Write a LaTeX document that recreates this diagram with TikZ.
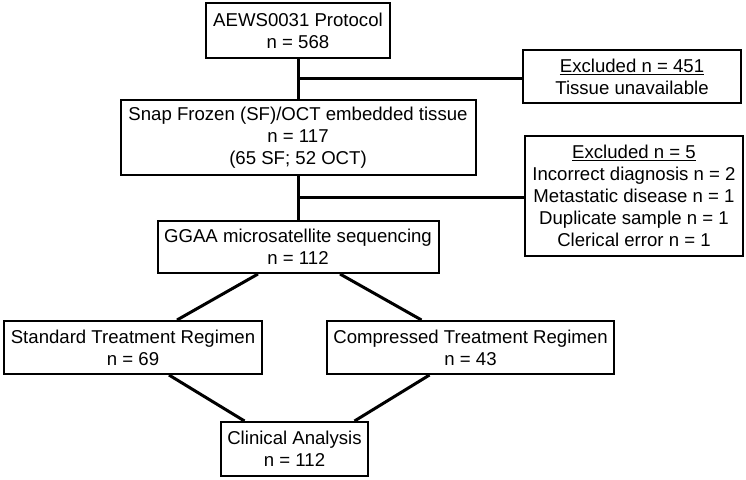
\documentclass[tikz,border=0pt]{standalone}
\usepackage{fontspec}
\setmainfont{Liberation Sans}
\usepackage{tikz}
\usetikzlibrary{shapes,arrows}
\tikzstyle{block} = [rectangle, draw, line width=2pt, align=center,
inner sep=0pt, font=\fontsize{18.6}{22}\selectfont]
\tikzstyle{excluded} = [block, minimum width=218pt]
\tikzstyle{line} = [draw, line width=3pt]

\begin{document}
\begin{tikzpicture}[x=1pt, y=-1pt]
        \useasboundingbox (0,0) rectangle (746,479);

        \node [block, minimum width=184pt, minimum height=55pt] (protocol) at (298,30.5) {AEWS0031 Protocol\\n = 568};
        \node [block, below of=protocol, node distance=107pt, minimum width=355pt, minimum height=75pt] (frozen) {Snap Frozen (SF)/OCT embedded tissue\\n = 117\\(65 SF; 52 OCT)};
        \node [block, below of=frozen, node distance=109.5pt, minimum width=281pt, minimum height=52pt] (seq) {GGAA microsatellite sequencing\\n = 112};
        \node [block, minimum width=258pt, minimum height=53pt] (standard) at (133,347.5) {Standard Treatment Regimen\\n = 69};
        \node [block, minimum width=287pt, minimum height=53pt] (compressed) at (470.5,347.5) {Compressed Treatment Regimen\\n = 43};
        \node [block, minimum width=147pt, minimum height=54pt] (clinical) at (294.5,449) {Clinical Analysis\\n = 112};

        \node [excluded, minimum height=53pt] (excl1) at (632,76.5) {\underline{Excluded n = 451}\\Tissue unavailable};
        \node [excluded, minimum height=120pt] (excl2) at (634,196) {\underline{Excluded n = 5}\\Incorrect diagnosis n = 2\\Metastatic disease n = 1\\Duplicate sample n = 1\\Clerical error n = 1};

        \coordinate (cut1) at (297,78);
        \coordinate (cut2) at (297,197);

        \path [line] (protocol) -- (frozen);
        \path [line] (frozen) -- (seq);
        \path [line] (cut1) -- (cut1 -| excl1.west);
        \path [line] (cut2) -- (cut2 -| excl2.west);
        \path [line] ([xshift=-40pt]seq.south) -- ([xshift=44pt]standard.north);
        \path [line] ([xshift=42pt]seq.south) -- ([xshift=-49pt]compressed.north);
        \path [line] ([xshift=36pt]standard.south) -- ([xshift=-50pt]clinical.north);
        \path [line] ([xshift=-41pt]compressed.south) -- ([xshift=60pt]clinical.north);
      \end{tikzpicture}
\end{document}
